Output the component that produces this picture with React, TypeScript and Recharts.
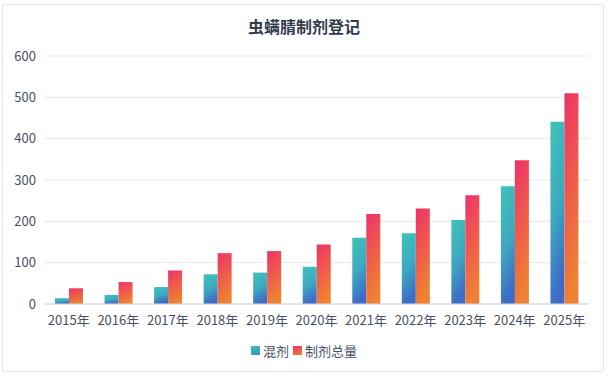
import { BarChart, Bar, XAxis, YAxis, CartesianGrid } from 'recharts';

const years = ['2015年', '2016年', '2017年', '2018年', '2019年', '2020年', '2021年', '2022年', '2023年', '2024年', '2025年'];
const mixed = [14, 22, 41, 72, 76, 90, 160, 171, 203, 285, 441];
const total = [38, 53, 81, 123, 128, 144, 218, 231, 263, 348, 510];
const yTicks = [0, 100, 200, 300, 400, 500, 600];

const chartData = years.map((year, i) => ({ year, mixed: mixed[i], total: total[i] }));

const font = '"Noto Sans CJK SC", "Noto Sans", sans-serif';

export default function App() {
    return (
        <div style={{ position: 'absolute', left: 0, top: 0, width: 608, height: 376, background: '#fff', fontFamily: font }}>
            {/* card border */}
            <div style={{ position: 'absolute', left: 2, top: 4, width: 600, height: 366, border: '1px solid #e4e7ee', borderRadius: 2 }} />
            <div style={{ position: 'absolute', left: 0, top: 14, width: 608, textAlign: 'center', fontSize: 16, fontWeight: 700, color: '#333b4c' }}>
                虫螨腈制剂登记
            </div>
            <div style={{ position: 'absolute', left: 0, top: 0 }}>
                <BarChart
                    width={608}
                    height={376}
                    data={chartData}
                    margin={{ top: 56, right: 19, left: 0, bottom: 42 }}
                    barSize={14}
                    barGap={0}
                >
                    <defs>
                        <linearGradient id="mixGrad" x1="0" y1="0" x2="0.25" y2="1">
                            <stop offset="0%" stopColor="#3fc4b8" />
                            <stop offset="55%" stopColor="#3ea9c0" />
                            <stop offset="100%" stopColor="#3d6cc6" />
                        </linearGradient>
                        <linearGradient id="totalGrad" x1="0" y1="0" x2="0.25" y2="1">
                            <stop offset="0%" stopColor="#ee3169" />
                            <stop offset="100%" stopColor="#ef8132" />
                        </linearGradient>
                    </defs>
                    <CartesianGrid vertical={false} stroke="#e6e9f0" />
                    <XAxis
                        dataKey="year"
                        height={30}
                        tickLine={false}
                        axisLine={{ stroke: '#d6d9e0' }}
                        tick={{ fontSize: 13, fill: '#4a5060', fontFamily: font }}
                        tickMargin={6}
                        interval={0}
                    />
                    <YAxis
                        width={44}
                        domain={[0, 600]}
                        ticks={yTicks}
                        tickLine={false}
                        axisLine={false}
                        tick={{ fontSize: 13, fill: '#4a5060', fontFamily: font }}
                    />
                    <Bar dataKey="mixed" fill="url(#mixGrad)" isAnimationActive={false} />
                    <Bar dataKey="total" fill="url(#totalGrad)" isAnimationActive={false} />
                </BarChart>
            </div>
            {/* legend */}
            <div style={{ position: 'absolute', left: 0, top: 341, width: 608, display: 'flex', justifyContent: 'center', alignItems: 'center', fontSize: 13, color: '#4a5060' }}>
                <span style={{ width: 9, height: 9, background: 'linear-gradient(160deg, #3fc4b8, #3d8cc6)', marginRight: 3 }} />
                <span style={{ marginRight: 4 }}>混剂</span>
                <span style={{ width: 9, height: 9, background: 'linear-gradient(160deg, #ee3169, #ef8132)', marginRight: 3 }} />
                <span>制剂总量</span>
            </div>
        </div>
    );
}
